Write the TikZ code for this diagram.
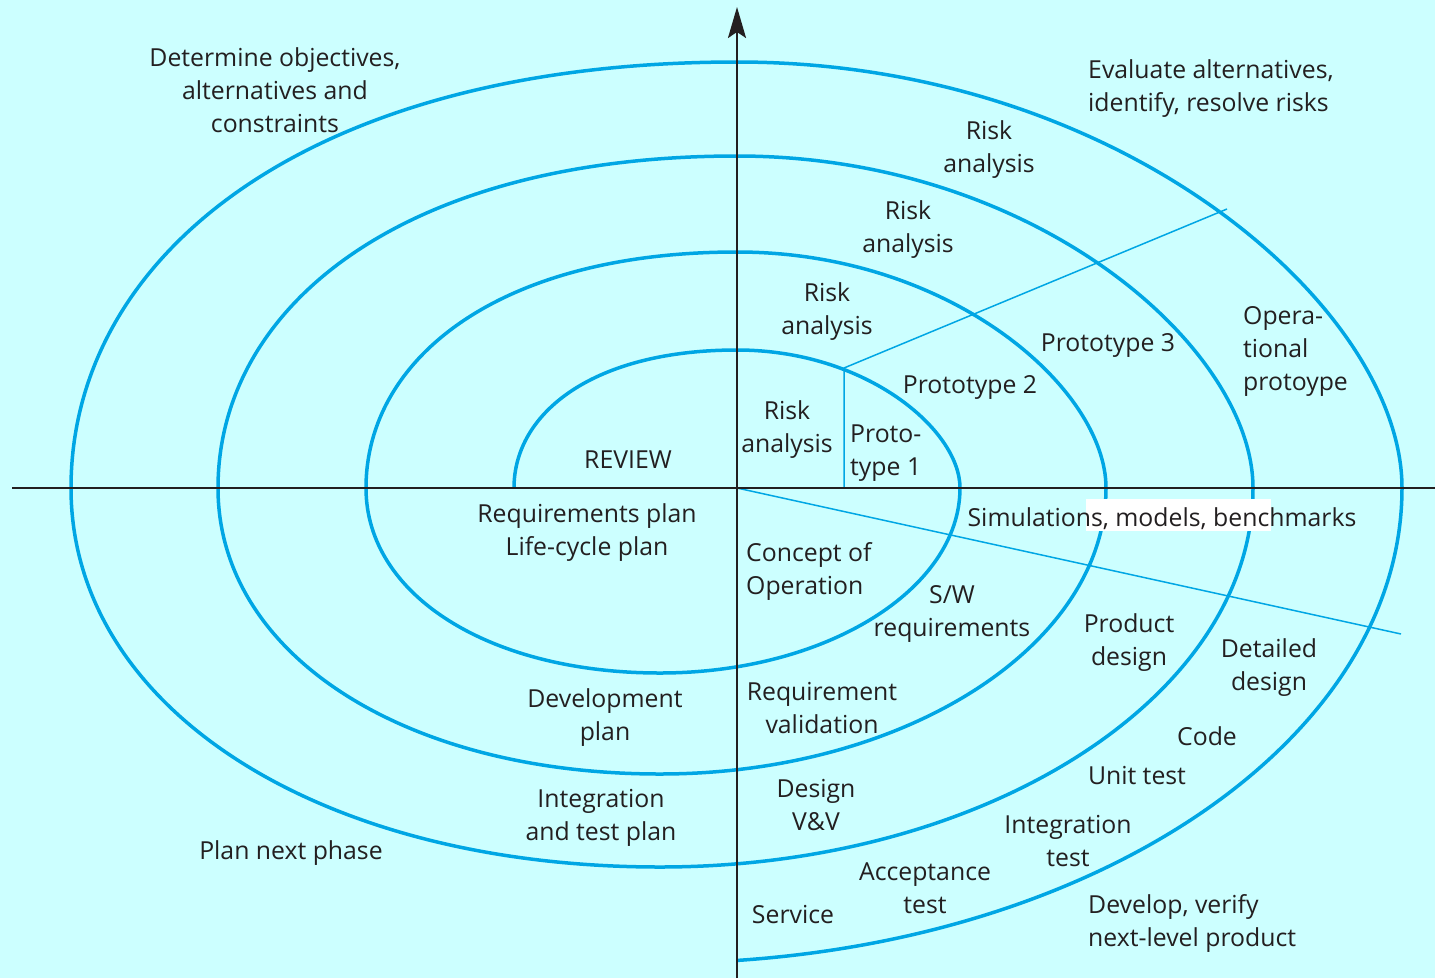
\documentclass[tikz,border=0pt]{standalone}
\usepackage{fontspec}
\setmainfont{Open Sans}
\usetikzlibrary{arrows.meta}
\definecolor{bg}{RGB}{204,255,255}
\definecolor{spir}{RGB}{0,166,228}
\definecolor{ink}{RGB}{35,31,32}
\def\kTLs{0.55}\def\kTLt{0.64}\def\kTRt{0.58}\def\kTRs{0.42}
\def\kBRs{0.55}\def\kBRb{0.55}\def\kBLb{0.58}\def\kBLs{0.58}
\begin{document}
\begin{tikzpicture}[x=1pt,y=1pt,
  font=\fontsize{24.8}{33}\selectfont,
  lbl/.style={inner sep=0pt, align=center, text=ink, yshift=-3pt},
  lbll/.style={inner sep=0pt, align=left, anchor=west, text=ink, yshift=-3pt},
  spiral/.style={draw=spir, line width=3.5pt},
  thinline/.style={draw=spir, line width=1.5pt},
  axisline/.style={draw=ink, line width=2.2pt},
  toparc/.style n args={3}{insert path={ .. controls (#1,{-488+\kTLs*(488-#3)}) and ({737-\kTLt*(737-#1)},-#3) .. (737,-#3) .. controls ({737+\kTRt*(#2-737)},-#3) and (#2,{-488+\kTRs*(488-#3)}) .. (#2,-488)}},
  botarc/.style n args={3}{insert path={ .. controls (#1,{-488-\kBRs*(#3-488)}) and ({660+\kBRb*(#1-660)},-#3) .. (660,-#3) .. controls ({660-\kBLb*(660-#2)},-#3) and (#2,{-488-\kBLs*(#3-488)}) .. (#2,-488)}}
]
\fill[bg] (0,0) rectangle (1435,-978);
\useasboundingbox (0,0) rectangle (1435,-978);

% spiral
\draw[spiral] (514,-488) [toparc={514}{960}{350}] [botarc={960}{366}{673}]
  [toparc={366}{1106}{252}] [botarc={1106}{218}{774}]
  [toparc={218}{1253}{156}] [botarc={1253}{71}{867}]
  [toparc={71}{1402}{62}] arc[start angle=0, end angle=-84, x radius=742pt, y radius=475pt];

% thin lines
\coordinate (p1) at (844,-368);
\coordinate (p1b) at (844,-488);
\coordinate (p2) at (1227,-209);
\coordinate (o) at (737,-488);
\coordinate (p3) at (1401,-634);
\draw[thinline] (p1b) -- (p1) -- (p2);
\draw[thinline] (o) -- (p3);

% axes
\coordinate (xl) at (12,-488);
\coordinate (xr) at (1435,-488);
\coordinate (yb) at (737,-978);
\coordinate (yt) at (737,-7);
\draw[axisline] (xl) -- (xr);
\draw[axisline, -{Stealth[length=31pt, width=18pt, inset=6pt]}] (yb) -- (yt);

% white patch
\fill[white] (1086,-499) rectangle (1271,-531);

% labels
\node[lbl] (n1) at (275,-87) {Determine objectives,\\alternatives and\\constraints};
\node[lbll] (n2) at (1088,-86) {Evaluate alternatives,\\identify, resolve risks};
\node[lbl] (n3) at (989,-147) {Risk\\analysis};
\node[lbl] (n4) at (908,-227) {Risk\\analysis};
\node[lbl] (n5) at (827,-309) {Risk\\analysis};
\node[lbl] (n6) at (787,-427) {Risk\\analysis};
\node[lbll] (n7) at (850,-450) {Proto-\\type 1};
\node[lbl] (n8) at (970,-384) {Prototype 2};
\node[lbl] (n9) at (1108,-342) {Prototype 3};
\node[lbll] (n10) at (1243,-348) {Opera-\\tional\\protoype};
\node[lbl] (n11) at (628,-457) {REVIEW};
\node[lbl] (n12) at (587,-530) {Requirements plan\\Life-cycle plan};
\node[lbll] (n13) at (746,-568) {Concept of\\Operation};
\node[lbl] (n14) at (952,-611) {S/W\\requirements};
\node[lbl] (n15) at (1162,-516) {Simulations, models, benchmarks};
\node[lbl] (n16) at (1129,-640) {Product\\design};
\node[lbl] (n17) at (1269,-665) {Detailed\\design};
\node[lbl] (n18) at (1207,-733) {Code};
\node[lbl] (n19) at (1137,-773) {Unit test};
\node[lbl] (n20) at (1068,-838) {Integration\\test};
\node[lbl] (n21) at (605,-715) {Development\\plan};
\node[lbl] (n22) at (822,-705) {Requirement\\validation};
\node[lbl] (n23) at (816,-802) {Design\\V\&V};
\node[lbl] (n24) at (601,-815) {Integration\\and test plan};
\node[lbl] (n25) at (291,-850) {Plan next phase};
\node[lbl] (n26) at (925,-885) {Acceptance\\test};
\node[lbl] (n27) at (793,-912) {Service};
\node[lbll] (n28) at (1088,-920) {Develop, verify\\next-level product};
\end{tikzpicture}
\end{document}
